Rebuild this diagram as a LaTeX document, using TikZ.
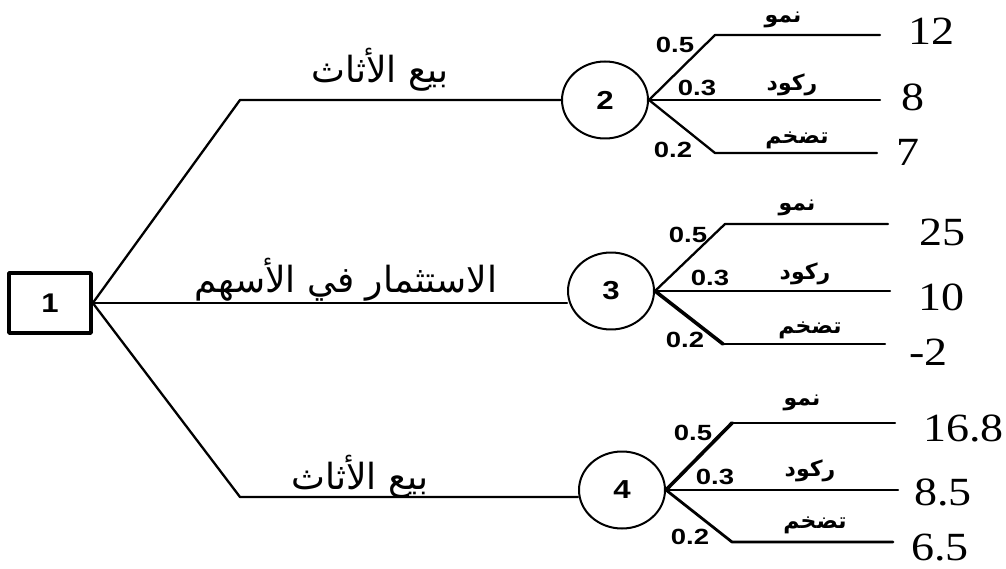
\documentclass[tikz,border=0pt]{standalone}
\usepackage{fontspec}
\setmainfont{Liberation Serif}
\newfontfamily\arabicfont[Script=Arabic]{DejaVu Sans}
\newfontfamily\probfont{Liberation Sans}
\TeXXeTstate=1
\usetikzlibrary{shapes.geometric}
\tikzset{
  decision/.style={draw,line width=3.6pt,minimum width=82pt,minimum height=60pt,inner sep=0pt,
    font=\probfont\bfseries\fontsize{27}{27}\selectfont},
  chance/.style={draw,ellipse,line width=2pt,minimum width=86pt,minimum height=77pt,inner sep=0pt,
    font=\probfont\bfseries\fontsize{26}{26}\selectfont},
  payoff/.style={anchor=west,inner sep=0pt,font=\fontsize{40}{40}\selectfont,xscale=1.15},
  prob/.style={inner sep=0pt,font=\probfont\bfseries\fontsize{22}{22}\selectfont,xscale=1.25},
  state/.style={inner sep=0pt,font=\arabicfont\bfseries\fontsize{22}{22}\selectfont},
  act/.style={inner sep=0pt,font=\arabicfont\fontsize{36}{36}\selectfont},
}
\begin{document}
\begin{tikzpicture}[line join=round,line cap=round,x=1pt,y=-1pt,line width=2.3pt]
  \useasboundingbox (0,0) rectangle (1006,569);
  % decision node and alternatives
  \node[decision] (d1) at (50,303) {\scalebox{1.15}[1]{1}};
  \node[chance] (c2) at (605,100) {\scalebox{1.2}[1]{2}};
  \node[chance] (c3) at (611,291) {\scalebox{1.2}[1]{3}};
  \node[chance] (c4) at (622,490) {\scalebox{1.2}[1]{4}};
  \coordinate (k2) at (240,100);
  \coordinate (k4) at (240,497);
  \draw (d1.east) -- (k2) -- (c2.west);
  \draw (d1.east) -- (d1.east -| c3.west);
  \draw (d1.east) -- (k4) -- (k4 -| c4.west);
  \node[act] (a2) at (380,70) {\beginR بيع الأثاث\endR};
  \node[act] (a3) at (346,280) {\beginR الاستثمار في الأسهم\endR};
  \node[act] (a4) at (360,477) {\beginR بيع الأثاث\endR};

  % chance node 2
  \coordinate (t2) at (715,35); \coordinate (te2) at (880,35);
  \coordinate (me2) at (880,100);
  \coordinate (b2) at (715,153); \coordinate (be2) at (877,153);
  \draw (c2.east) -- (t2) -- (te2);
  \draw (c2.east) -- (me2);
  \draw (c2.east) -- (b2) -- (be2);
  \node[payoff] (p2a) at (907,31) {12};
  \node[payoff] (p2b) at (900,97) {8};
  \node[payoff] (p2c) at (895,152) {7};
  \node[prob] at (675,45) {0.5};
  \node[prob] at (697,88) {0.3};
  \node[prob] at (673,150) {0.2};
  \node[state] at (783,20) {\beginR نمو\endR};
  \node[state] at (792,85) {\beginR ركود\endR};
  \node[state] at (797,140) {\beginR تضخم\endR};

  % chance node 3
  \coordinate (t3) at (725,224); \coordinate (te3) at (888,224);
  \coordinate (me3) at (890,291);
  \coordinate (b3) at (723,344); \coordinate (be3) at (885,344);
  \draw (c3.east) -- (t3) -- (te3);
  \draw (c3.east) -- (me3);
  \draw[line width=3.6pt] (c3.east) -- (b3);
  \draw (b3) -- (be3);
  \node[payoff] (p3a) at (918,232) {25};
  \node[payoff] (p3b) at (917,297) {10};
  \node[payoff] (p3c) at (908,352) {-2};
  \node[prob] at (688,235) {0.5};
  \node[prob] at (710,278) {0.3};
  \node[prob] at (685,340) {0.2};
  \node[state] at (797,208) {\beginR نمو\endR};
  \node[state] at (805,274) {\beginR ركود\endR};
  \node[state] at (810,330) {\beginR تضخم\endR};

  % chance node 4
  \coordinate (t4) at (732,423); \coordinate (te4) at (895,423);
  \coordinate (me4) at (898,490);
  \coordinate (b4) at (732,542); \coordinate (be4) at (893,542);
  \draw[line width=3.6pt] (c4.east) -- (t4);
  \draw (t4) -- (te4);
  \draw (c4.east) -- (me4);
  \draw[line width=2.8pt] (c4.east) -- (b4) -- (be4);
  \node[payoff] (p4a) at (922,428) {16.8};
  \node[payoff] (p4b) at (913,492) {8.5};
  \node[payoff] (p4c) at (910,548) {6.5};
  \node[prob] at (693,433) {0.5};
  \node[prob] at (715,477) {0.3};
  \node[prob] at (690,537) {0.2};
  \node[state] at (802,403) {\beginR نمو\endR};
  \node[state] at (810,471) {\beginR ركود\endR};
  \node[state] at (815,525) {\beginR تضخم\endR};
\end{tikzpicture}
\end{document}
